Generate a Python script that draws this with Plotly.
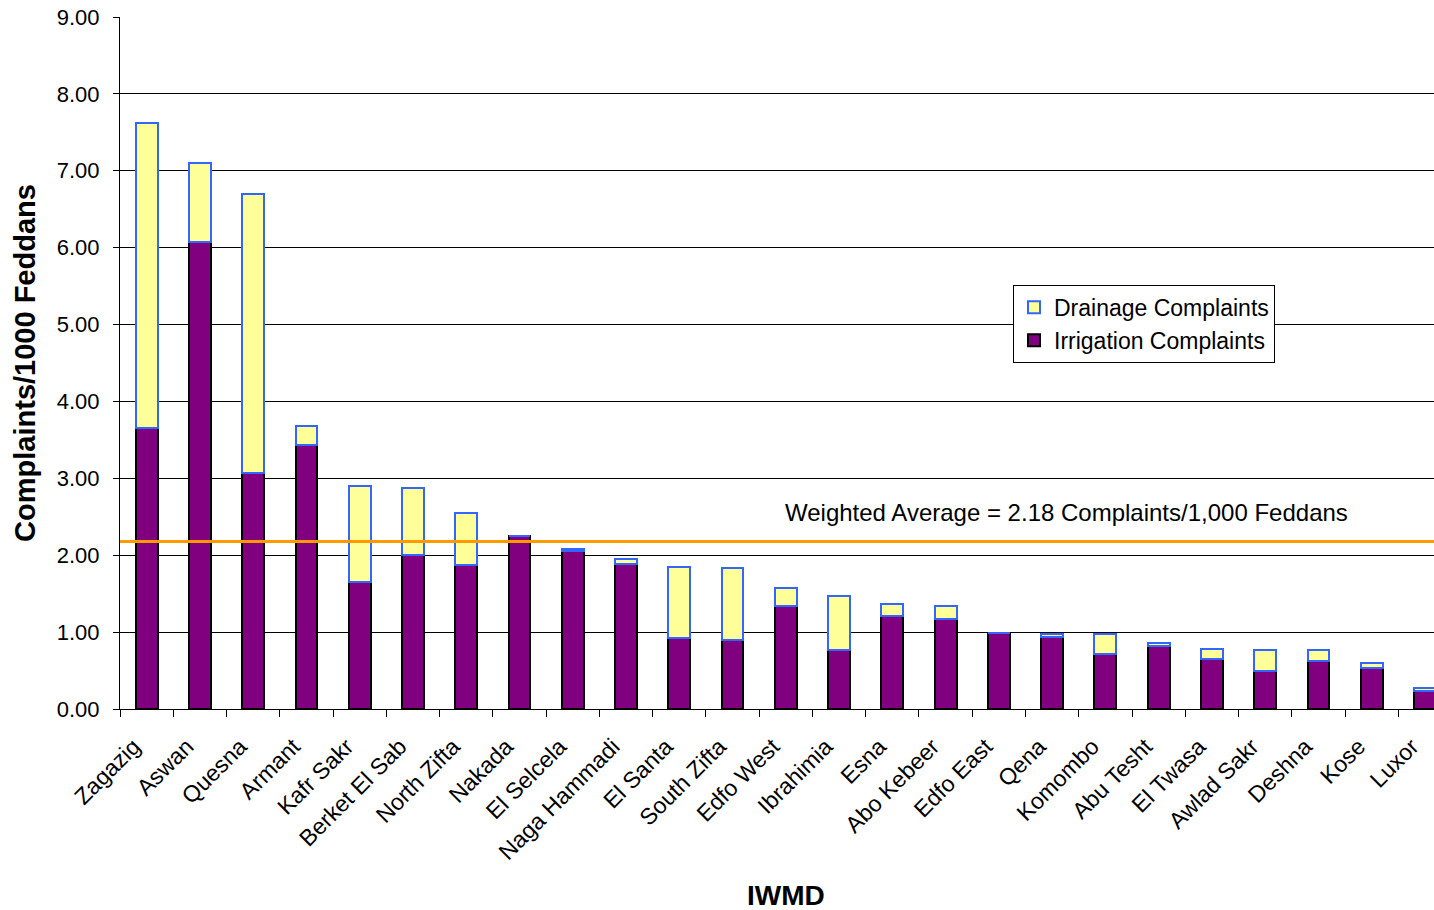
import plotly.graph_objects as go

# IWMD districts, sorted by total complaints per 1000 feddans
districts = ["Zagazig", "Aswan", "Quesna", "Armant", "Kafr Sakr", "Berket El Sab",
             "North Zifta", "Nakada", "El Selcela", "Naga Hammadi", "El Santa",
             "South Zifta", "Edfo West", "Ibrahimia", "Esna", "Abo Kebeer",
             "Edfo East", "Qena", "Komombo", "Abu Tesht", "El Twasa", "Awlad Sakr",
             "Deshna", "Kose", "Luxor"]

irrigation = [3.65, 6.07, 3.07, 3.43, 1.65, 2.00, 1.87, 2.25, 2.05, 1.89, 0.92,
              0.90, 1.34, 0.77, 1.21, 1.17, 0.99, 0.93, 0.72, 0.82, 0.65, 0.49,
              0.62, 0.53, 0.23]

drainage = [3.97, 1.03, 3.63, 0.25, 1.25, 0.87, 0.68, 0.00, 0.03, 0.06, 0.93,
            0.94, 0.24, 0.70, 0.16, 0.17, 0.00, 0.05, 0.26, 0.04, 0.13, 0.28,
            0.15, 0.07, 0.04]

weighted_average = 2.18
y_ticks = [0, 1, 2, 3, 4, 5, 6, 7, 8, 9]

FONT = "Liberation Sans, Arial, sans-serif"

fig = go.Figure()
fig.add_trace(go.Bar(
    x=districts, y=irrigation, name="Irrigation Complaints",
    marker=dict(color="#800080", line=dict(color="#000000", width=2)),
))
fig.add_trace(go.Bar(
    x=districts, y=drainage, name="Drainage Complaints",
    marker=dict(color="#FFFF99", line=dict(color="#3366FF", width=2)),
))

# weighted average reference line across the plot
fig.add_shape(type="line", xref="paper", yref="y", x0=0, x1=1,
              y0=weighted_average, y1=weighted_average,
              line=dict(color="#FF9900", width=3), layer="above")
fig.add_annotation(
    xref="paper", yref="y", x=0.7205, y=2.55, xanchor="center", yanchor="middle",
    text=f"Weighted Average = {weighted_average:.2f} Complaints/1,000 Feddans",
    showarrow=False, font=dict(family=FONT, size=24, color="#000000"),
)

# x-axis title, centred under the full category band
fig.add_annotation(
    xref="paper", yref="paper", x=0.5068, y=-0.2688, xanchor="center", yanchor="middle",
    text="<b>IWMD</b>", showarrow=False, font=dict(family=FONT, size=28, color="#000000"),
)

fig.update_layout(
    width=1434, height=910,
    margin=dict(l=120, r=0, t=17, b=201),
    paper_bgcolor="white", plot_bgcolor="white",
    barmode="stack", bargap=0.59,
    font=dict(family=FONT, size=23, color="#000000"),
    showlegend=True,
    legend=dict(
        x=0.6796, y=0.613, xanchor="left", yanchor="top",
        bgcolor="white", bordercolor="#000000", borderwidth=1,
        traceorder="reversed", font=dict(family=FONT, size=23),
        itemsizing="constant", tracegroupgap=0,
    ),
)

fig.update_xaxes(
    type="category", range=[-0.5, 24.17],
    showline=True, linecolor="#000000", linewidth=1,
    ticks="outside", tickson="boundaries", ticklen=7, tickcolor="#000000",
    tickangle=-45, tickfont=dict(family=FONT, size=23),
    ticklabelstandoff=14, ticklabelshift=-13,
    showgrid=False,
)
fig.update_yaxes(
    range=[0, 9], tickvals=y_ticks, tickformat=".2f",
    showline=True, linecolor="#000000", linewidth=1,
    ticks="outside", ticklen=6, tickcolor="#000000",
    ticklabelstandoff=9,
    tickfont=dict(family=FONT, size=22),
    showgrid=True, gridcolor="#000000", gridwidth=1, zeroline=False,
    title=dict(text="<b>Complaints/1000 Feddans</b>", font=dict(family=FONT, size=29), standoff=12),
)

fig.write_html("out.html")
